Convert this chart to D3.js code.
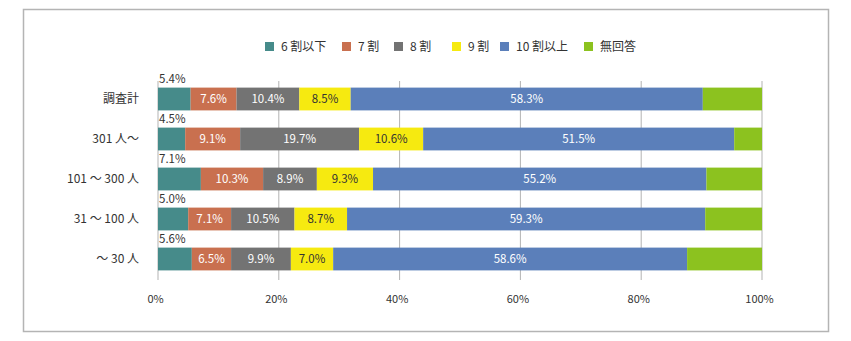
<!DOCTYPE html>
<html><head><meta charset="utf-8">
<script src="https://cdn.jsdelivr.net/npm/d3@7"></script>
<style>
body{margin:0;background:#fff;}
svg{display:block;font-family:"Noto Sans CJK JP","Noto Sans",sans-serif;}
</style></head>
<body><svg id="c" width="851" height="341"></svg>
<script>
const categories = ["調査計", "301 人～", "101 ～ 300 人", "31 ～ 100 人", "～ 30 人"];
const seriesNames = ["6 割以下", "7 割", "8 割", "9 割", "10 割以上", "無回答"];
const s6 = [5.4, 4.5, 7.1, 5.0, 5.6];
const s7 = [7.6, 9.1, 10.3, 7.1, 6.5];
const s8 = [10.4, 19.7, 8.9, 10.5, 9.9];
const s9 = [8.5, 10.6, 9.3, 8.7, 7.0];
const s10 = [58.3, 51.5, 55.2, 59.3, 58.6];
const sNA = [9.8, 4.6, 9.2, 9.4, 12.4];
const tickValues = [0, 20, 40, 60, 80, 100];
const colors = ["#468b8a", "#c9704f", "#737373", "#f6ea10", "#5b7fba", "#8cc21f"];
const labelColors = ["#333", "#fff", "#fff", "#333", "#fff", null];

const series = [s6, s7, s8, s9, s10, sNA];
const rows = categories.map((c, i) => {
  const o = {cat: c};
  seriesNames.forEach((n, j) => o[n] = series[j][i]);
  return o;
});
const stacked = d3.stack().keys(seriesNames)(rows);

const svg = d3.select("#c");
svg.append("rect").attr("x", 23.5).attr("y", 9.5).attr("width", 805).attr("height", 322)
  .attr("fill", "none").attr("stroke", "#b4b4b4").attr("stroke-width", 1.5);

const x = d3.scaleLinear().domain([0, 100]).range([158, 762]);
const y = d3.scaleBand().domain(categories).range([79, 279]).paddingInner(0.43).paddingOuter(0.215);

// gridlines
svg.append("g").selectAll("line").data(tickValues).join("line")
  .attr("x1", d => x(d)).attr("x2", d => x(d)).attr("y1", 81).attr("y2", 280)
  .attr("stroke", "#b3b3b3").attr("stroke-width", 1);

// axis
const axis = d3.axisBottom(x).tickValues(tickValues).tickFormat(d => d + "%").tickSize(0).tickPadding(0);
const ag = svg.append("g").attr("transform", "translate(-3,299)").call(axis);
ag.select(".domain").remove();
ag.selectAll("text").attr("font-size", 11).attr("fill", "#333").attr("dy", "0.35em")
  .attr("font-family", "'Noto Sans CJK JP', sans-serif");

// bars
const g = svg.append("g");
stacked.forEach((layer, j) => {
  g.append("g").selectAll("rect").data(layer).join("rect")
    .attr("x", d => x(d[0])).attr("width", d => x(d[1]) - x(d[0]))
    .attr("y", d => y(d.data.cat)).attr("height", y.bandwidth())
    .attr("fill", colors[j]);
});
// labels
stacked.forEach((layer, j) => {
  if (!labelColors[j]) return;
  g.append("g").selectAll("text").data(layer).join("text")
    .attr("x", d => j === 0 ? x(0) + 1 : (x(d[0]) + x(d[1])) / 2)
    .attr("y", d => j === 0 ? y(d.data.cat) - 5 : y(d.data.cat) + y.bandwidth() / 2)
    .attr("dy", j === 0 ? 0 : "0.36em")
    .attr("text-anchor", j === 0 ? "start" : "middle")
    .attr("font-size", 11.5).attr("fill", labelColors[j])
    .text(d => (d[1] - d[0]).toFixed(1) + "%");
});

// category labels
svg.append("g").selectAll("text").data(categories).join("text")
  .attr("x", 139).attr("y", d => y(d) + y.bandwidth() / 2).attr("dy", "0.36em")
  .attr("text-anchor", "end").attr("font-size", 12).attr("fill", "#333").text(d => d);

// legend
const legendX = [265, 342, 394, 452, 500, 584];
const lg = svg.append("g").selectAll("g").data(seriesNames).join("g")
  .attr("transform", (d, i) => `translate(${legendX[i]},42)`);
lg.append("rect").attr("width", 9).attr("height", 9).attr("fill", (d, i) => colors[i]);
lg.append("text").attr("x", 16).attr("y", 4.5).attr("dy", "0.36em").attr("font-size", 12)
  .attr("fill", "#333").text(d => d);
</script></body></html>
